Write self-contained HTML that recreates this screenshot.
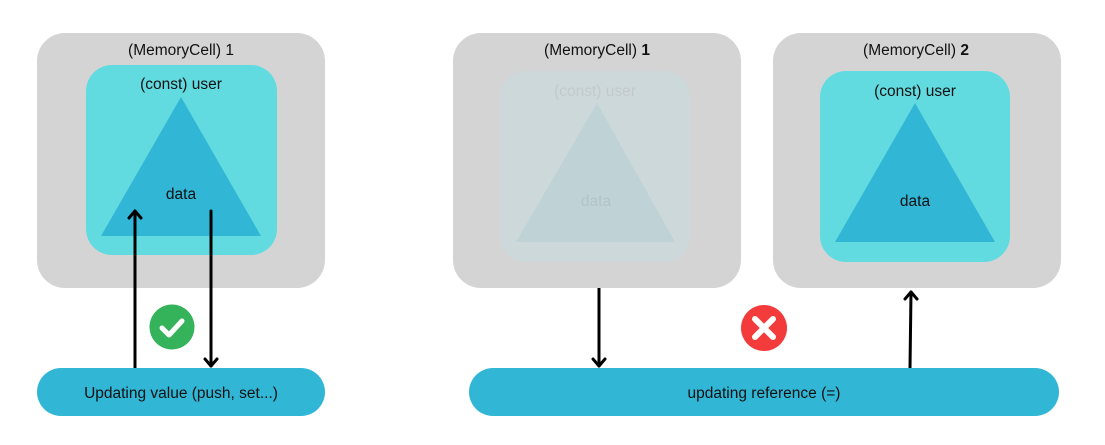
<!DOCTYPE html>
<html><head><meta charset="utf-8"><style>
html,body{margin:0;padding:0;background:#fff;}
svg{display:block;font-family:"Liberation Sans",sans-serif;}
</style></head><body>
<svg width="1105" height="445" viewBox="0 0 1105 445" xmlns="http://www.w3.org/2000/svg">
<!-- Left cell -->
<rect x="37" y="33" width="288" height="255" rx="28" fill="#d4d4d4"/>
<rect x="86" y="65" width="191" height="190" rx="26" fill="#62dbe0"/>
<polygon points="181,97 101,236 261,236" fill="#31b6d6"/>
<text x="181" y="55" font-size="15.5" text-anchor="middle" fill="#111">(MemoryCell) 1</text>
<text x="181" y="89" font-size="15.5" text-anchor="middle" fill="#111">(const) user</text>
<text x="181" y="199" font-size="15.5" text-anchor="middle" fill="#111">data</text>
<g stroke="#000" stroke-width="3" fill="none" stroke-linecap="round" stroke-linejoin="round">
<line x1="135" y1="368" x2="135" y2="211"/>
<path d="M129,218 L135,211 L141,218"/>
<line x1="211" y1="211" x2="211" y2="366"/>
<path d="M205,359 L211,366 L217,359"/>
<line x1="599" y1="288" x2="599" y2="366"/>
<path d="M593,359 L599,366 L605,359"/>
<line x1="910" y1="368" x2="911" y2="292"/>
<path d="M905,299 L911,292 L917,299"/>
</g>
<circle cx="172" cy="327" r="22.5" fill="#34b35a"/>
<path d="M162,328 L169,335 L182,321" fill="none" stroke="#fff" stroke-width="5" stroke-linecap="round" stroke-linejoin="round"/>
<rect x="37" y="368" width="288" height="48" rx="24" fill="#31b6d6"/>
<text x="181" y="398" font-size="15.5" text-anchor="middle" fill="#111">Updating value (push, set...)</text>

<!-- Middle cell -->
<rect x="453" y="33" width="288" height="255" rx="28" fill="#d4d4d4"/>
<rect x="500" y="71" width="190" height="191" rx="26" fill="#ccd8d9"/>
<polygon points="597,103 516,242 675,242" fill="#bfd3d6"/>
<text x="597" y="55" font-size="15.5" text-anchor="middle" fill="#111">(MemoryCell) <tspan font-weight="bold">1</tspan></text>
<text x="595" y="96" font-size="15.5" text-anchor="middle" fill="#c3c9ca">(const) user</text>
<text x="596" y="206" font-size="15.5" text-anchor="middle" fill="#b3c4c6">data</text>

<!-- Right cell -->
<rect x="773" y="33" width="288" height="255" rx="28" fill="#d4d4d4"/>
<rect x="820" y="71" width="190" height="191" rx="26" fill="#62dbe0"/>
<polygon points="915,103 835,242 995,242" fill="#31b6d6"/>
<text x="916" y="55" font-size="15.5" text-anchor="middle" fill="#111">(MemoryCell) <tspan font-weight="bold">2</tspan></text>
<text x="915" y="96" font-size="15.5" text-anchor="middle" fill="#111">(const) user</text>
<text x="915" y="206" font-size="15.5" text-anchor="middle" fill="#111">data</text>

<circle cx="764" cy="328" r="23" fill="#f43b3b"/>
<path d="M755,319 L773,337 M773,319 L755,337" stroke="#fff" stroke-width="6" stroke-linecap="round"/>

<rect x="469" y="368" width="590" height="48" rx="24" fill="#31b6d6"/>
<text x="764" y="398" font-size="15.5" text-anchor="middle" fill="#111">updating reference (=)</text>
</svg>
</body></html>
